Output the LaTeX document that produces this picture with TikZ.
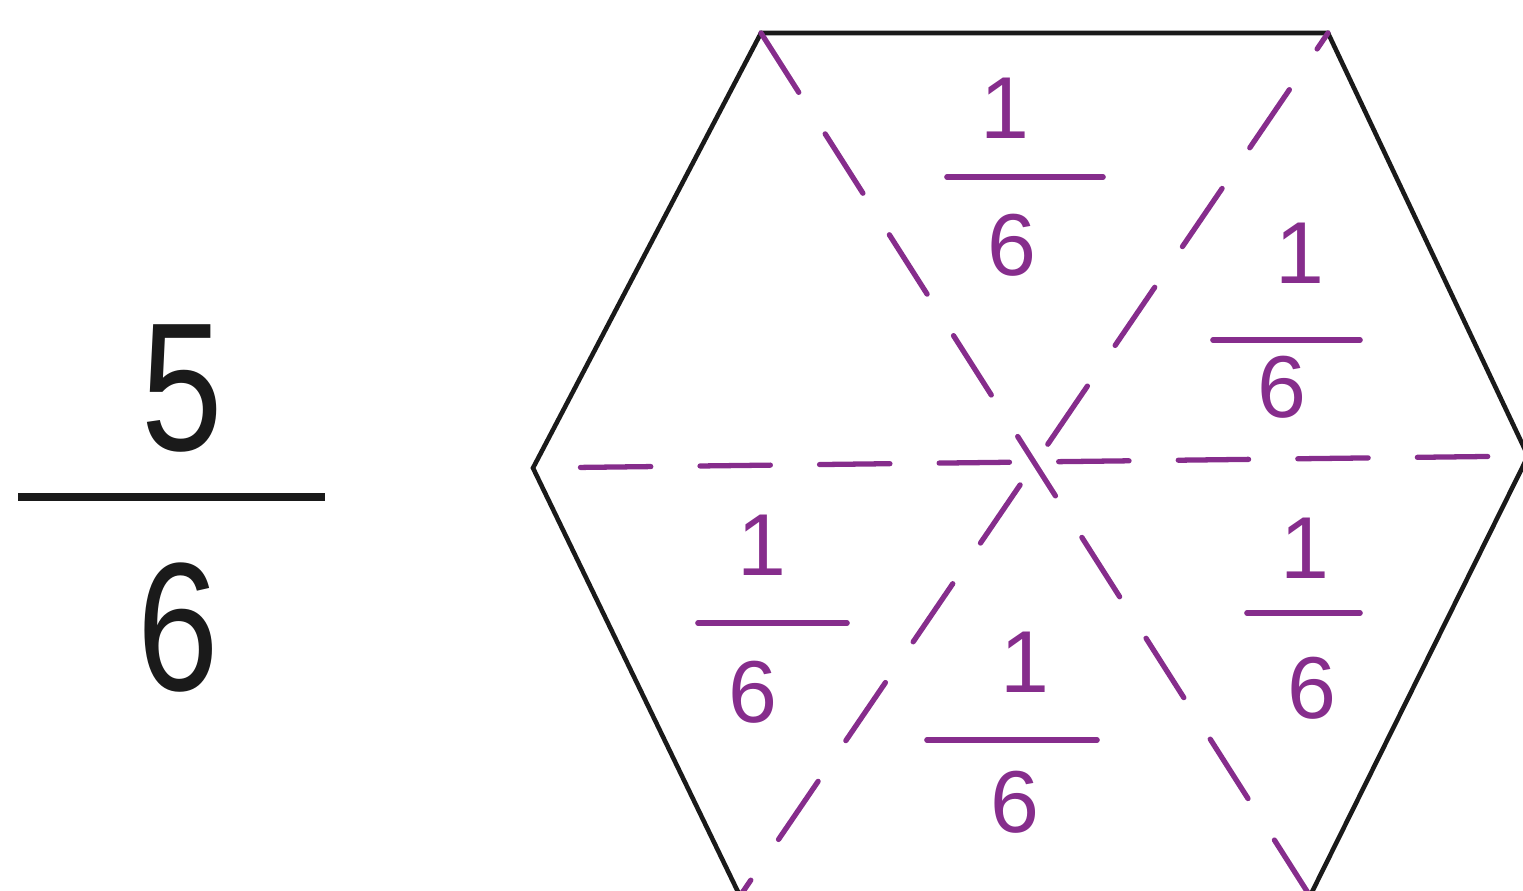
\documentclass[tikz,border=0pt]{standalone}
\usepackage{fontspec}
\setmainfont{Liberation Sans}
\usetikzlibrary{positioning}
\definecolor{PenPurple}{HTML}{862D8C}
\definecolor{InkBlack}{HTML}{1A1A1A}
\tikzset{
  hexedge/.style={draw=InkBlack,line width=1.3pt,line join=miter},
  cutline/.style={draw=PenPurple,line width=1.5pt,dash pattern=on 20pt off 14pt,line cap=round},
  fracbar/.style={draw=PenPurple,line width=1.6pt,line cap=round},
  bigbar/.style={draw=InkBlack,line width=2.4pt},
  piecedigit/.style={text=PenPurple,font=\fontsize{25}{30}\selectfont,inner sep=0pt},
  bigdigit/.style={text=InkBlack,font=\fontsize{52}{60}\selectfont,inner sep=0pt}
}
\begin{document}
\begin{tikzpicture}[x=0.01cm,y=-0.01cm]
\useasboundingbox (0,0) rectangle (1523,891);
% hexagon corners
\coordinate (hTL) at (761,33);
\coordinate (hTR) at (1328,33);
\coordinate (hR) at (1528,456);
\coordinate (hBR) at (1310,896);
\coordinate (hBL) at (740,896);
\coordinate (hL) at (533,468);
\draw[hexedge] (hTL) -- (hTR) -- (hR) -- (hBR) -- (hBL) -- (hL) -- cycle;
% cuts into six pieces
\draw[cutline,dash phase=20.5pt] (hL) -- (hR);
\draw[cutline] (hTL) -- (hBR);
\draw[cutline,dash phase=14.5pt] (hTR) -- (hBL);
% five sixths
\node[bigdigit] (bigNum) at (182,388) {\scalebox{0.8}[1]{5}};
\node[bigdigit] (bigDen) at (178,628) {\scalebox{0.8}[1]{6}};
\coordinate (bigBarL) at (18,497);
\coordinate (bigBarR) at (325,497);
\draw[bigbar] (bigBarL) -- (bigBarR);
% one sixth in each marked piece
\foreach \nx/\ny/\bl/\br/\by/\dx/\dy [count=\i] in {
  1005/108/947/1103/177/1012/245,
  1300/253/1213/1360/340/1282/387,
  762/545/698/847/623/753/692,
  1025/662/927/1097/740/1015/802,
  1305/548/1247/1360/613/1312/688}
{
  \node[piecedigit] (num\i) at (\nx,\ny) {1};
  \node[piecedigit] (den\i) at (\dx,\dy) {6};
  \draw[fracbar] (\bl,\by) -- (\br,\by);
}
\end{tikzpicture}
\end{document}
